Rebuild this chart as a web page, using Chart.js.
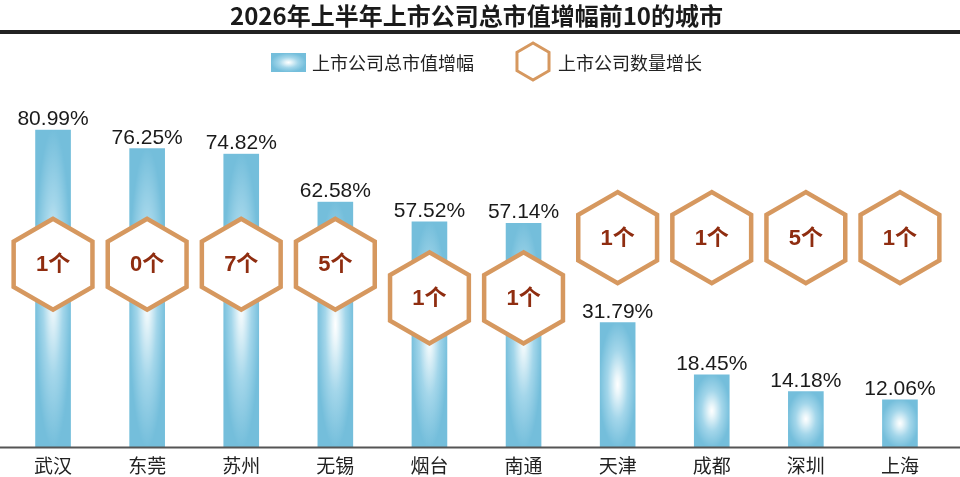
<!DOCTYPE html>
<html>
<head>
<meta charset="utf-8">
<script src="https://cdn.jsdelivr.net/npm/chart.js@4.4.1/dist/chart.umd.min.js"></script>
<style>
  html, body { margin: 0; padding: 0; background: #fff; }
  #wrap { width: 960px; height: 477px; }
</style>
</head>
<body>
<div id="wrap"><canvas id="chart"></canvas></div>
<script>
const cities = ['武汉', '东莞', '苏州', '无锡', '烟台', '南通', '天津', '成都', '深圳', '上海'];
const marketCapGrowth = [80.99, 76.25, 74.82, 62.58, 57.52, 57.14, 31.79, 18.45, 14.18, 12.06];
const listedIncrease = [1, 0, 7, 5, 1, 1, 1, 1, 5, 1];

const CJK = '"Noto Sans CJK SC", "Noto Sans", sans-serif';
const NUM = '"Liberation Sans", Arial, "Noto Sans CJK SC", sans-serif';
const BLUE = '#74bedb';
const ORANGE = '#d6985f';
const BAR_W = 35;

// bar fill: white glow in the middle fading out to blue at the edges
function glossy(w, h) {
    const c = document.createElement('canvas');
    c.width = Math.max(2, Math.round(w));
    c.height = Math.max(2, Math.round(h));
    const g = c.getContext('2d');
    g.fillStyle = BLUE;
    g.fillRect(0, 0, c.width, c.height);
    g.translate(c.width / 2, c.height / 2);
    g.scale(1, c.height / c.width);
    const grad = g.createRadialGradient(0, 0, 0, 0, 0, c.width / 2);
    grad.addColorStop(0, '#ffffff');
    grad.addColorStop(0.15, '#eaf6fa');
    grad.addColorStop(0.55, '#a3d6ea');
    grad.addColorStop(1, BLUE);
    g.fillStyle = grad;
    g.fillRect(-c.width / 2, -c.width / 2, c.width, c.width);
    return c;
}

function hexPath(ctx, cx, cy, r) {
    ctx.beginPath();
    for (let k = 0; k < 6; k++) {
        const a = Math.PI / 2 + k * Math.PI / 3;
        const px = cx + r * Math.cos(a), py = cy - r * Math.sin(a);
        if (k === 0) ctx.moveTo(px, py); else ctx.lineTo(px, py);
    }
    ctx.closePath();
}

const decor = {
    id: 'decor',
    afterDatasetsDraw(chart) {
        const { ctx, scales: { y } } = chart;
        const bars = chart.getDatasetMeta(0).data;
        ctx.save();
        ctx.font = '21px ' + NUM;
        ctx.fillStyle = '#1a1a1a';
        ctx.textAlign = 'center';
        ctx.textBaseline = 'alphabetic';
        bars.forEach((bar, i) => {
            ctx.fillText(marketCapGrowth[i].toFixed(2) + '%', bar.x, bar.y - 5);
        });
        // hexagon badges: inside tall bars, above the short ones
        bars.forEach((bar, i) => {
            const v = marketCapGrowth[i];
            const level = v > 60 ? 46.7 : v > 45 ? 38.1 : 53.5;
            const cy = y.getPixelForValue(level);
            hexPath(ctx, bar.x, cy, 45.5);
            ctx.fillStyle = '#ffffff';
            ctx.fill();
            ctx.lineWidth = 4.5;
            ctx.strokeStyle = ORANGE;
            ctx.stroke();
            ctx.fillStyle = '#8f2d10';
            ctx.font = 'bold 22px ' + NUM;
            ctx.textBaseline = 'middle';
            ctx.fillText(listedIncrease[i] + '个', bar.x, cy + 1);
        });
        ctx.restore();
    },
    afterDraw(chart) {
        const { ctx, chartArea } = chart;
        ctx.save();
        // rule under the title
        ctx.fillStyle = '#222';
        ctx.fillRect(0, 30, chart.width, 4);
        // baseline
        ctx.strokeStyle = '#555';
        ctx.lineWidth = 2;
        ctx.beginPath();
        ctx.moveTo(0, chartArea.bottom + 0.5);
        ctx.lineTo(chart.width, chartArea.bottom + 0.5);
        ctx.stroke();
        // legend
        const ds = chart.data.datasets;
        ctx.drawImage(glossy(35, 19), 271, 53);
        ctx.font = '18px ' + CJK;
        ctx.fillStyle = '#222';
        ctx.textAlign = 'left';
        ctx.textBaseline = 'middle';
        ctx.fillText(ds[0].label, 312, 63);
        hexPath(ctx, 533, 61.5, 18.5);
        ctx.lineWidth = 3;
        ctx.strokeStyle = ORANGE;
        ctx.stroke();
        ctx.fillText(ds[1].label, 558, 63);
        ctx.restore();
    }
};

new Chart(document.getElementById('chart').getContext('2d'), {
    type: 'bar',
    data: {
        labels: cities,
        datasets: [{
            label: '上市公司总市值增幅',
            data: marketCapGrowth,
            barThickness: BAR_W,
            borderWidth: 0,
            backgroundColor: (c) => {
                const chart = c.chart;
                if (c.type !== 'data' || !chart.chartArea) return BLUE;
                const { x, y } = chart.scales;
                const cx = x.getPixelForValue(c.dataIndex);
                const top = y.getPixelForValue(c.raw);
                const base = y.getPixelForValue(0);
                const pat = chart.ctx.createPattern(glossy(BAR_W + 2, base - top + 2), 'no-repeat');
                pat.setTransform(new DOMMatrix().translate(cx - BAR_W / 2 - 1, top - 1));
                return pat;
            }
        }, {
            label: '上市公司数量增长',
            data: [],
            hidden: true
        }]
    },
    options: {
        responsive: true,
        maintainAspectRatio: false,
        animation: false,
        layout: { padding: { left: 6, right: 13, top: 1, bottom: 0 } },
        scales: {
            x: {
                grid: { display: false, drawTicks: false },
                border: { display: false },
                afterFit: (scale) => { scale.height = 30; },
                ticks: {
                    color: '#222',
                    padding: 7,
                    maxRotation: 0,
                    autoSkip: false,
                    font: { family: CJK, size: 19 }
                }
            },
            y: {
                display: false,
                min: 0,
                max: 90
            }
        },
        plugins: {
            legend: { display: false },
            tooltip: { enabled: false },
            title: {
                display: true,
                text: '2026年上半年上市公司总市值增幅前10的城市',
                color: '#1a1a1a',
                font: { family: CJK, size: 24, weight: 'bold' },
                padding: { top: 0, bottom: 65 }
            }
        }
    },
    plugins: [decor]
});
</script>
</body>
</html>
